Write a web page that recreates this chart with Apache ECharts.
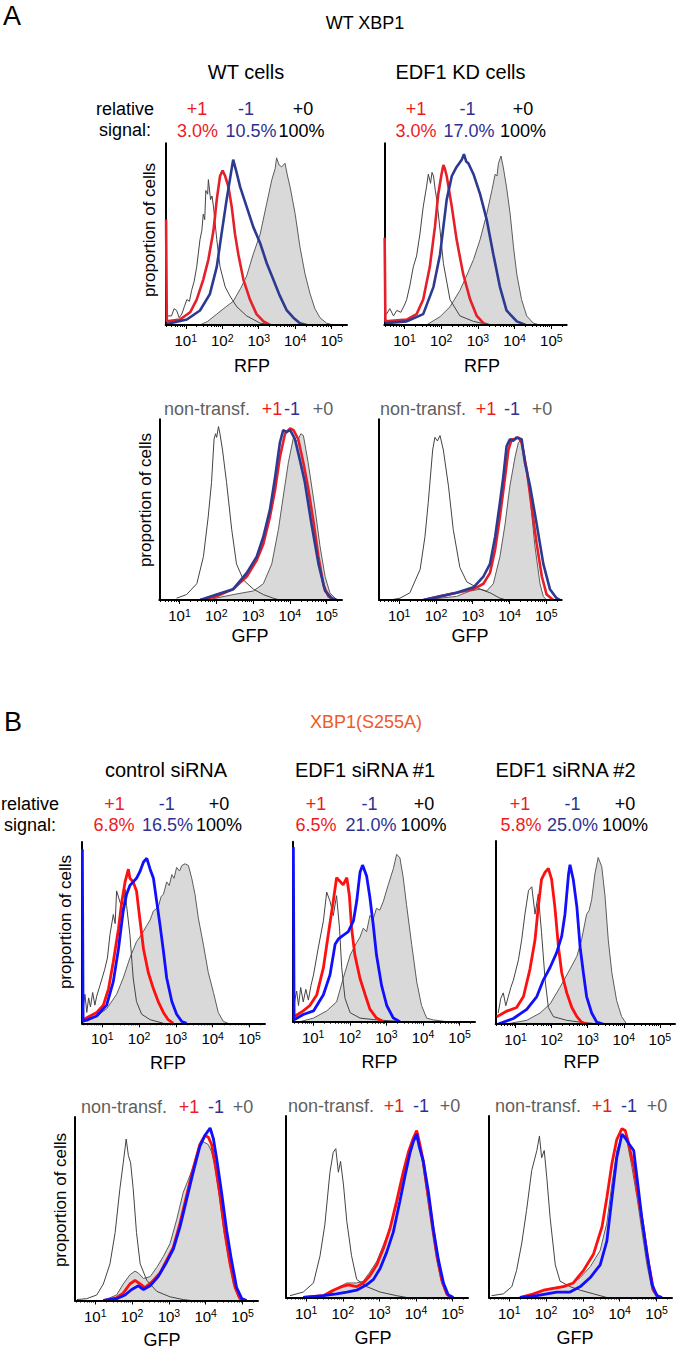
<!DOCTYPE html>
<html><head><meta charset="utf-8">
<script src="https://cdn.jsdelivr.net/npm/echarts@6/dist/echarts.min.js"></script>
<style>html,body{margin:0;padding:0;background:#fff}#c{width:679px;height:1356px}</style>
</head><body><div id="c"></div>
<script>
// x values are log10(fluorescence); y values are % of panel height
const tickExps = [1, 2, 3, 4, 5];
const tickBase = '10';

// ---- A: WT XBP1, RFP ----
const a1Fill = [[1.39,0],[1.6,2],[1.85,6],[2.1,10],[2.3,13],[2.5,20],[2.67,27],[2.85,39],[3.04,50],[3.22,67],[3.36,80],[3.45,86],[3.49,92],[3.56,88],[3.63,87],[3.72,89],[3.79,82],[3.86,76],[4.0,61],[4.13,43],[4.27,28],[4.41,17],[4.54,9],[4.68,4],[4.86,1],[5.05,0]];
const a1Non = [[0.45,6],[0.5,5],[0.61,5],[0.68,9],[0.75,8],[0.82,4],[0.89,6],[0.96,10],[1.03,14],[1.1,13],[1.16,19],[1.23,24],[1.3,32],[1.39,47],[1.44,52],[1.48,61],[1.52,58],[1.55,74],[1.6,72],[1.62,80],[1.68,69],[1.72,71],[1.76,65],[1.85,47],[1.94,32],[2.08,21],[2.21,16],[2.4,10],[2.67,5],[3.04,1],[3.4,0]];
const a1Red = [[0.46,58],[0.48,2],[0.84,3],[1.12,7],[1.3,14],[1.48,25],[1.62,36],[1.76,52],[1.85,69],[1.94,82],[2.01,85],[2.08,82],[2.17,76],[2.26,65],[2.35,50],[2.44,39],[2.58,25],[2.76,14],[2.94,6],[3.13,2],[3.31,0]];
const a1Blue = [[0.48,0.5],[1.03,3],[1.39,8],[1.66,17],[1.85,32],[1.98,50],[2.12,69],[2.21,80],[2.3,91],[2.38,85],[2.49,76],[2.67,65],[2.85,54],[3.04,45],[3.22,34],[3.4,25],[3.58,16],[3.77,8],[3.95,4],[4.13,1],[4.31,0]];

const a2Fill = [[1.6,0],[1.97,4.6],[2.24,10],[2.51,19],[2.69,27],[2.88,36],[3.06,47],[3.24,61],[3.38,74],[3.47,83],[3.52,82],[3.56,89],[3.63,93],[3.69,87],[3.78,76],[3.88,61],[3.97,43],[4.06,28],[4.19,14],[4.33,5],[4.51,1],[4.69,0]];
const a2Non = [[0.45,6],[0.51,6],[0.6,9],[0.7,5],[0.79,8],[0.9,7],[1.0,11],[1.06,14],[1.15,22],[1.24,32],[1.33,38],[1.42,50],[1.51,65],[1.6,76],[1.65,83],[1.71,78],[1.75,84],[1.79,82],[1.84,74],[1.88,69],[1.97,52],[2.06,34],[2.24,14],[2.51,5],[2.88,2],[3.33,0]];
const a2Red = [[0.46,48],[0.48,2],[1.06,3],[1.33,6],[1.51,14],[1.69,32],[1.83,54],[1.92,72],[2.01,83],[2.06,88],[2.1,86],[2.15,82],[2.29,65],[2.42,47],[2.6,28],[2.79,14],[2.97,5],[3.15,1],[3.3,0]];
const a2Blue = [[0.48,1],[1.06,2],[1.51,6],[1.79,21],[1.97,39],[2.06,54],[2.15,69],[2.29,82],[2.42,87],[2.56,91],[2.62,94],[2.68,90],[2.74,89],[2.88,83],[3.06,72],[3.24,58],[3.42,39],[3.6,21],[3.78,8],[4.06,2],[4.3,0]];

// ---- A: WT XBP1, GFP ----
const a3Fill = [[1.74,0],[2.46,3],[3.01,5],[3.28,9],[3.51,20],[3.69,39],[3.82,57],[3.96,76],[4.1,90],[4.17,88],[4.23,89],[4.3,92],[4.37,91],[4.5,76],[4.69,50],[4.82,30],[4.96,13],[5.09,4],[5.28,0]];
const a3Non = [[0.92,1],[1.19,3],[1.47,9],[1.65,24],[1.78,46],[1.87,65],[1.94,89],[1.98,92],[2.01,90],[2.06,96],[2.1,92],[2.17,83],[2.28,65],[2.42,39],[2.55,20],[2.74,11],[3.01,6],[3.28,3],[3.55,1],[3.73,0]];
const a3Red = [[1.56,0],[2.01,2],[2.46,6],[2.83,13],[3.1,22],[3.28,31],[3.46,46],[3.6,61],[3.73,79],[3.87,92],[4.01,95],[4.1,94],[4.23,89],[4.37,76],[4.5,62],[4.64,44],[4.78,24],[4.92,8],[5.05,2],[5.2,0]];
const a3Blue = [[1.56,0],[2.01,3],[2.46,6],[2.83,15],[3.1,24],[3.28,35],[3.46,50],[3.6,68],[3.73,87],[3.82,94],[3.91,93],[4.01,94],[4.14,89],[4.28,77],[4.41,65],[4.59,42],[4.78,20],[4.96,5],[5.14,1],[5.28,0]];

const a4Fill = [[1.66,0],[2.56,2],[2.93,5],[3.2,6],[3.38,5],[3.56,9],[3.74,24],[3.88,42],[4.01,63],[4.15,79],[4.24,87],[4.33,89],[4.42,79],[4.56,57],[4.69,30],[4.83,9],[4.92,2],[5.01,0]];
const a4Non = [[0.75,0],[1.02,1],[1.29,4],[1.57,17],[1.7,35],[1.79,54],[1.91,83],[1.97,90],[2.04,88],[2.11,91],[2.2,83],[2.34,63],[2.47,39],[2.65,18],[2.84,10],[3.2,6],[3.47,4],[3.74,1],[3.92,0]];
const a4Red = [[1.66,0],[2.11,2],[2.56,4],[3.02,6],[3.29,9],[3.47,15],[3.61,28],[3.74,46],[3.88,68],[3.97,83],[4.06,89],[4.15,89],[4.24,90],[4.33,87],[4.47,72],[4.6,52],[4.74,31],[4.88,13],[5.01,3],[5.19,0]];
const a4Blue = [[1.66,0],[2.11,2],[2.56,4],[3.02,7],[3.29,13],[3.47,20],[3.61,35],[3.74,54],[3.83,68],[3.92,85],[4.01,89],[4.1,88],[4.19,90],[4.33,89],[4.42,76],[4.56,63],[4.74,42],[4.92,20],[5.1,6],[5.28,1],[5.37,0]];

// ---- B: XBP1(S255A), RFP ----
const b1Fill = [[0.58,1],[0.85,4],[1.12,8],[1.39,16],[1.57,25],[1.75,36],[1.93,45],[2.07,49],[2.21,54],[2.3,57],[2.39,62],[2.52,64],[2.6,70],[2.66,71],[2.75,78],[2.82,76],[2.89,82],[2.95,80],[3.02,86],[3.1,84],[3.16,87],[3.25,88],[3.34,87],[3.43,80],[3.52,71],[3.61,58],[3.75,43],[3.88,28],[4.02,17],[4.15,6],[4.29,1],[4.42,0]];
const b1Non = [[0.48,8],[0.53,16],[0.58,6],[0.63,14],[0.68,9],[0.74,17],[0.8,10],[0.85,15],[0.94,21],[1.07,30],[1.14,36],[1.21,49],[1.3,60],[1.35,55],[1.39,73],[1.48,67],[1.57,62],[1.62,74],[1.66,65],[1.75,49],[1.84,25],[1.93,12],[2.07,5],[2.3,2],[2.66,0]];
const b1Red = [[0.48,2],[0.85,6],[1.03,10],[1.17,19],[1.3,34],[1.44,52],[1.53,67],[1.62,78],[1.71,85],[1.75,80],[1.84,78],[1.93,73],[2.03,56],[2.12,41],[2.25,28],[2.39,19],[2.52,12],[2.66,6],[2.79,2],[2.93,0]];
const b1Blue = [[0.46,96],[0.48,1],[0.85,4],[1.12,10],[1.3,23],[1.44,41],[1.57,62],[1.66,71],[1.75,76],[1.84,78],[1.93,80],[2.03,84],[2.12,89],[2.21,91],[2.3,85],[2.39,80],[2.48,67],[2.57,54],[2.66,40],[2.75,25],[2.89,12],[3.02,5],[3.16,1],[3.29,0]];

const b2Fill = [[0.64,0],[1.01,2],[1.37,6],[1.64,11],[1.82,24],[2.01,37],[2.19,44],[2.28,47],[2.37,52],[2.46,50],[2.55,59],[2.64,57],[2.73,63],[2.82,62],[2.92,67],[3.05,76],[3.19,85],[3.28,93],[3.37,91],[3.46,80],[3.55,65],[3.69,43],[3.83,22],[3.96,9],[4.1,2],[4.28,1],[4.65,0]];
const b2Non = [[0.48,10],[0.55,17],[0.6,9],[0.66,19],[0.73,11],[0.8,18],[0.87,12],[0.94,20],[1.01,26],[1.14,41],[1.28,56],[1.37,72],[1.46,67],[1.55,59],[1.64,70],[1.72,52],[1.78,30],[1.87,13],[2.01,5],[2.28,2],[2.73,1],[3.46,0]];
const b2Red = [[0.5,3],[0.73,6],[0.91,9],[1.1,15],[1.28,30],[1.41,48],[1.55,67],[1.64,80],[1.73,78],[1.82,76],[1.92,80],[1.99,70],[2.05,52],[2.14,37],[2.28,24],[2.42,15],[2.55,7],[2.73,2],[2.92,0]];
const b2Blue = [[0.46,97],[0.48,1],[0.73,4],[1.01,6],[1.28,15],[1.46,26],[1.6,43],[1.69,46],[1.82,48],[1.96,50],[2.1,56],[2.19,67],[2.28,83],[2.35,87],[2.46,81],[2.55,69],[2.64,54],[2.73,37],[2.87,20],[3.01,9],[3.19,2],[3.37,0]];

const b3Fill = [[0.75,0],[1.31,2],[1.68,6],[1.96,11],[2.23,20],[2.51,30],[2.7,37],[2.83,46],[2.97,60],[3.04,62],[3.11,68],[3.2,82],[3.29,91],[3.39,86],[3.48,70],[3.57,46],[3.67,28],[3.8,13],[3.94,4],[4.08,0]];
const b3Non = [[0.52,6],[0.59,14],[0.66,17],[0.73,10],[0.8,15],[0.87,20],[0.94,24],[1.08,35],[1.17,46],[1.26,60],[1.36,73],[1.45,75],[1.54,60],[1.63,71],[1.72,50],[1.82,24],[1.91,9],[2.05,4],[2.42,2],[2.79,1],[3.34,0]];
const b3Red = [[0.48,4],[0.75,7],[1.03,9],[1.22,15],[1.4,30],[1.54,46],[1.63,64],[1.72,79],[1.82,83],[1.91,85],[2.0,79],[2.09,64],[2.19,42],[2.28,28],[2.42,17],[2.56,9],[2.7,4],[2.83,1],[2.97,0]];
const b3Blue = [[0.52,0],[0.94,3],[1.31,8],[1.59,15],[1.77,24],[1.96,31],[2.14,39],[2.28,48],[2.37,60],[2.47,82],[2.51,87],[2.6,79],[2.7,64],[2.79,42],[2.88,28],[2.97,15],[3.11,6],[3.25,1],[3.43,0]];

// ---- B: XBP1(S255A), GFP ----
const b4Fill = [[1.22,0],[1.58,3],[1.76,9],[1.94,14],[2.08,16],[2.17,15],[2.31,12],[2.49,13],[2.67,18],[2.85,24],[3.03,31],[3.21,44],[3.39,59],[3.53,66],[3.66,73],[3.8,83],[3.89,87],[3.98,86],[4.07,85],[4.16,81],[4.25,73],[4.34,61],[4.48,40],[4.61,24],[4.75,9],[4.89,1.5],[5.02,0]];
const b4Non = [[0.5,0.5],[0.77,1],[1.04,3],[1.22,9],[1.4,20],[1.54,37],[1.67,61],[1.76,75],[1.84,88],[1.9,79],[1.96,75],[2.03,61],[2.12,37],[2.22,20],[2.4,11],[2.67,5],[3.03,2],[3.39,0.5],[3.6,0]];
const b4Red = [[1.22,0],[1.58,1.5],[1.76,4],[1.94,9],[2.08,11],[2.22,9],[2.35,7],[2.53,10],[2.76,15],[2.94,22],[3.12,29],[3.3,42],[3.48,57],[3.66,72],[3.84,85],[3.98,90],[4.07,89],[4.16,85],[4.25,75],[4.39,57],[4.52,37],[4.66,20],[4.8,7],[4.93,1],[5.07,0]];
const b4Blue = [[1.22,0],[1.58,1],[1.81,3],[1.99,6],[2.17,8],[2.31,6],[2.49,8],[2.71,13],[2.94,21],[3.12,28],[3.3,40],[3.48,55],[3.66,70],[3.84,84],[3.98,90],[4.12,94],[4.21,88],[4.3,77],[4.43,59],[4.57,38],[4.7,22],[4.84,7],[4.98,1],[5.11,0]];

const b5Fill = [[1.11,0],[1.65,2],[1.92,6],[2.11,8],[2.38,8],[2.56,9],[2.74,14],[2.93,20],[3.11,29],[3.29,38],[3.47,51],[3.65,67],[3.79,80],[3.88,86],[3.97,88],[4.06,86],[4.15,78],[4.29,58],[4.43,38],[4.56,21],[4.7,8],[4.84,1],[4.97,0]];
const b5Non = [[0.56,1],[0.92,3],[1.2,8],[1.38,23],[1.51,40],[1.65,69],[1.74,80],[1.81,82],[1.88,69],[1.94,75],[2.02,62],[2.11,42],[2.24,23],[2.38,10],[2.65,6],[3.02,3],[3.47,1],[3.75,0]];
const b5Red = [[0.92,0],[1.47,1],[1.74,4],[1.97,6],[2.15,7],[2.38,6],[2.56,8],[2.74,12],[2.93,18],[3.11,27],[3.29,38],[3.47,53],[3.65,69],[3.79,80],[3.93,88],[4.02,92],[4.11,84],[4.2,75],[4.29,62],[4.43,43],[4.56,25],[4.7,10],[4.84,2],[4.97,0]];
const b5Blue = [[0.92,0],[1.47,1],[1.83,2],[2.11,3],[2.38,4],[2.65,7],[2.84,10],[3.02,16],[3.2,25],[3.38,36],[3.56,53],[3.7,67],[3.84,80],[3.93,86],[4.02,90],[4.09,83],[4.2,75],[4.34,58],[4.47,38],[4.61,21],[4.75,8],[4.88,1.5],[5.02,0]];

const b6Fill = [[1.38,0],[1.84,3],[2.11,5],[2.38,6],[2.65,7],[2.93,11],[3.2,17],[3.47,26],[3.65,41],[3.79,63],[3.92,81],[4.06,89],[4.2,86],[4.33,72],[4.47,55],[4.6,37],[4.74,18],[4.88,4],[5.01,0]];
const b6Non = [[0.52,1],[0.84,2],[1.07,6],[1.2,15],[1.34,30],[1.47,48],[1.61,70],[1.75,81],[1.82,89],[1.88,77],[1.95,81],[2.02,66],[2.11,44],[2.25,18],[2.38,9],[2.65,6],[2.93,4],[3.29,2],[3.65,0]];
const b6Red = [[1.29,0],[1.66,2],[1.93,4],[2.2,5],[2.47,6],[2.74,8],[3.02,15],[3.29,24],[3.52,39],[3.65,55],[3.79,74],[3.92,87],[4.06,93],[4.15,92],[4.24,85],[4.38,72],[4.51,55],[4.65,37],[4.79,18],[4.92,4],[5.06,0]];
const b6Blue = [[1.29,0],[1.75,1],[2.02,2],[2.29,3],[2.65,3],[2.93,6],[3.2,11],[3.47,18],[3.65,31],[3.79,55],[3.92,77],[4.06,90],[4.15,88],[4.24,85],[4.38,81],[4.47,66],[4.6,44],[4.74,24],[4.88,7],[5.01,1],[5.15,0]];

// ---- text ----
const sigA1 = ['3.0%', '10.5%', '100%'];
const sigA2 = ['3.0%', '17.0%', '100%'];
const sigB1 = ['6.8%', '16.5%', '100%'];
const sigB2 = ['6.5%', '21.0%', '100%'];
const sigB3 = ['5.8%', '25.0%', '100%'];

const FONT = '"Liberation Sans", Arial, Helvetica, sans-serif';
const X_MIN = 0.45, X_MAX = 5.42;
const RED_T = '#ec1c24', BLUE_T = '#2e3192', GREY_T = '#5f5f5f';

const minorVals = [];
for (let n = 0; n <= 5; n++) for (let k = 2; k <= 9; k++) {
  const v = n + Math.log10(k);
  if (v > X_MIN && v < X_MAX) minorVals.push(v);
}

const panels = [
  {box:[165.7,143.3,347,325], d:[a1Fill,a1Non,a1Red,a1Blue], set:'A'},
  {box:[384.3,143.3,566.7,325], d:[a2Fill,a2Non,a2Red,a2Blue], set:'A'},
  {box:[159.3,419.3,342,600], d:[a3Fill,a3Non,a3Red,a3Blue], set:'A'},
  {box:[379,419.3,561.7,600], d:[a4Fill,a4Non,a4Red,a4Blue], set:'A'},
  {box:[82,842,265,1023.3], d:[b1Fill,b1Non,b1Red,b1Blue], set:'B'},
  {box:[293,841.7,475,1021.7], d:[b2Fill,b2Non,b2Red,b2Blue], set:'B'},
  {box:[495.7,841,675,1024], d:[b3Fill,b3Non,b3Red,b3Blue], set:'B'},
  {box:[75,1117,258,1300.5], d:[b4Fill,b4Non,b4Red,b4Blue], set:'B'},
  {box:[286,1116,468,1297.5], d:[b5Fill,b5Non,b5Red,b5Blue], set:'B'},
  {box:[489,1116,672,1297.5], d:[b6Fill,b6Non,b6Red,b6Blue], set:'B'}
];
const lineColors = {A:{red:'#e5202a', blue:'#2c3a92', w:2.6}, B:{red:'#ff1010', blue:'#1010ff', w:2.8}};

const grid = [], xAxis = [], yAxis = [], series = [];
panels.forEach((p, i) => {
  const [l, t, r, b] = p.box;
  grid.push({left:l, top:t, width:r - l, height:b - t});
  xAxis.push({gridIndex:i, type:'value', min:X_MIN, max:X_MAX, position:'bottom', z:5,
    axisLine:{onZero:false, lineStyle:{color:'#000', width:2}},
    axisTick:{customValues:tickExps, length:4, lineStyle:{color:'#000', width:1}},
    axisLabel:{customValues:tickExps, margin:7, hideOverlap:false, fontSize:15, color:'#000', fontFamily:FONT,
      formatter: v => '{n|' + tickBase + '}{s|' + Math.round(v) + '}',
      rich:{n:{fontSize:15, fontFamily:FONT, color:'#000', lineHeight:17},
            s:{fontSize:10.5, fontFamily:FONT, color:'#000', lineHeight:17, verticalAlign:'top'}}},
    splitLine:{show:false}});
  xAxis.push({gridIndex:i, type:'value', min:X_MIN, max:X_MAX, position:'bottom', z:5,
    axisLine:{show:false, onZero:false},
    axisTick:{customValues:minorVals, length:2, lineStyle:{color:'#000', width:1}},
    axisLabel:{show:false}, splitLine:{show:false}});
  yAxis.push({gridIndex:i, type:'value', min:0, max:100,
    axisLine:{show:true, onZero:false, lineStyle:{color:'#000', width:2}},
    axisTick:{show:false}, axisLabel:{show:false}, splitLine:{show:false}});
  const c = lineColors[p.set];
  const base = {type:'line', xAxisIndex:2 * i, yAxisIndex:i, showSymbol:false, symbol:'none', silent:true, clip:true};
  series.push(Object.assign({}, base, {data:p.d[0], lineStyle:{color:'#5c5c5c', width:1}, areaStyle:{color:'#d9d9d9', opacity:1}}));
  series.push(Object.assign({}, base, {data:p.d[1], lineStyle:{color:'#444', width:1}}));
  series.push(Object.assign({}, base, {data:p.d[2], lineStyle:{color:c.red, width:c.w}}));
  series.push(Object.assign({}, base, {data:p.d[3], lineStyle:{color:c.blue, width:c.w}}));
});

function txt(s, x, y, size, color, rot) {
  return {type:'text', x:x, y:y, rotation:rot || 0, silent:true, z:10,
    style:{text:s, x:0, y:0, fill:color, fontSize:size, fontFamily:FONT,
      textAlign:'center', textVerticalAlign:'middle', align:'center', verticalAlign:'middle'}};
}
const texts = [];
// Section A
texts.push(txt('A', 12, 16, 27, '#000'));
texts.push(txt('WT XBP1', 365, 23, 18, '#000'));
texts.push(txt('WT cells', 246, 72, 20, '#000'));
texts.push(txt('EDF1 KD cells', 460.5, 72, 20, '#000'));
texts.push(txt('relative', 125, 108.5, 18, '#000'));
texts.push(txt('signal:', 125, 130, 18, '#000'));
[[197,246,303, sigA1, [197.5,251,301.5]], [416,467.5,523, sigA2, [416,469,523]]].forEach(g => {
  texts.push(txt('+1', g[0], 108.5, 18, RED_T));
  texts.push(txt('-1', g[1], 108.5, 18, BLUE_T));
  texts.push(txt('+0', g[2], 108.5, 18, '#000'));
  texts.push(txt(g[3][0], g[4][0], 131, 18, RED_T));
  texts.push(txt(g[3][1], g[4][1], 131, 18, BLUE_T));
  texts.push(txt(g[3][2], g[4][2], 131, 18, '#000'));
});
texts.push(txt('RFP', 252, 366, 18, '#000'));
texts.push(txt('RFP', 482, 366, 18, '#000'));
texts.push(txt('proportion of cells', 149, 230, 17, '#000', Math.PI / 2));
texts.push(txt('proportion of cells', 145, 500, 17, '#000', Math.PI / 2));
[[207,272,292,323,409],[423,486,512,542,409]].forEach(h => {
  texts.push(txt('non-transf.', h[0], h[4], 18, GREY_T));
  texts.push(txt('+1', h[1], h[4], 18, RED_T));
  texts.push(txt('-1', h[2], h[4], 18, BLUE_T));
  texts.push(txt('+0', h[3], h[4], 18, GREY_T));
});
texts.push(txt('GFP', 250, 636, 18, '#000'));
texts.push(txt('GFP', 470, 636, 18, '#000'));
// Section B
texts.push(txt('B', 13, 722, 27, '#000'));
texts.push(txt('XBP1(S255A)', 366, 722, 18, '#f05a28'));
texts.push(txt('control siRNA', 166, 770, 20, '#000'));
texts.push(txt('EDF1 siRNA #1', 365, 770, 20, '#000'));
texts.push(txt('EDF1 siRNA #2', 565.5, 770, 20, '#000'));
texts.push(txt('relative', 30, 803.5, 18, '#000'));
texts.push(txt('signal:', 30, 825, 18, '#000'));
[[114.5,166.7,219, sigB1, [114,167.5,219]], [316,369.5,424, sigB2, [316,371,423.5]], [520,572.5,625, sigB3, [521,572.5,625]]].forEach(g => {
  texts.push(txt('+1', g[0], 803.5, 18, RED_T));
  texts.push(txt('-1', g[1], 803.5, 18, BLUE_T));
  texts.push(txt('+0', g[2], 803.5, 18, '#000'));
  texts.push(txt(g[3][0], g[4][0], 825, 18, RED_T));
  texts.push(txt(g[3][1], g[4][1], 825, 18, BLUE_T));
  texts.push(txt(g[3][2], g[4][2], 825, 18, '#000'));
});
texts.push(txt('RFP', 168, 1063, 18, '#000'));
texts.push(txt('RFP', 379.5, 1062, 18, '#000'));
texts.push(txt('RFP', 581.5, 1062, 18, '#000'));
texts.push(txt('proportion of cells', 65, 922, 17, '#000', Math.PI / 2));
texts.push(txt('proportion of cells', 60, 1200, 17, '#000', Math.PI / 2));
[[124,189,216,243,1107],[331,394,421,450,1106],[538,602,629,657,1106]].forEach(h => {
  texts.push(txt('non-transf.', h[0], h[4], 18, GREY_T));
  texts.push(txt('+1', h[1], h[4], 18, RED_T));
  texts.push(txt('-1', h[2], h[4], 18, BLUE_T));
  texts.push(txt('+0', h[3], h[4], 18, GREY_T));
});
texts.push(txt('GFP', 162, 1340, 18, '#000'));
texts.push(txt('GFP', 373, 1338, 18, '#000'));
texts.push(txt('GFP', 575, 1338, 18, '#000'));

const chart = echarts.init(document.getElementById('c'), null, {renderer:'svg', width:679, height:1356});
chart.setOption({
  animation:false,
  backgroundColor:'#fff',
  grid:grid, xAxis:xAxis, yAxis:yAxis, series:series,
  graphic:{elements:texts}
});
</script></body></html>
